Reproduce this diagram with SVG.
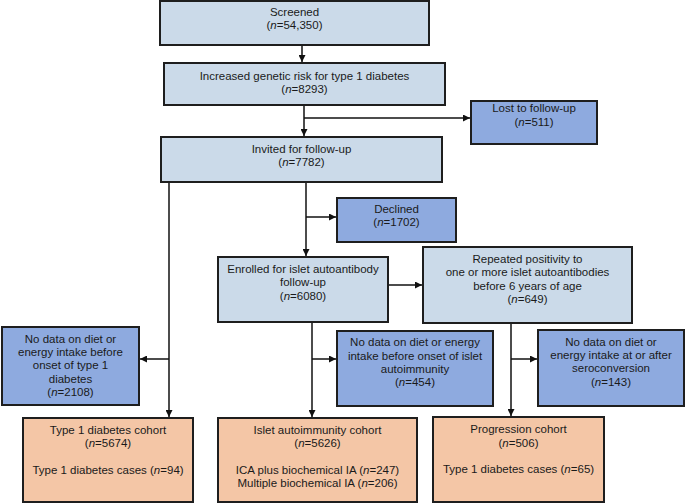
<svg xmlns="http://www.w3.org/2000/svg" width="685" height="504" viewBox="0 0 685 504">
<style>
  .box{stroke:#1e1e1e;stroke-width:2}
  .lb{fill:#cbdae9}
  .mb{fill:#8eaadf}
  .pc{fill:#f4c6a6}
  text{font-family:"Liberation Sans",Arial,sans-serif;font-size:11.5px;fill:#1a1a1a;text-anchor:middle}
  .ln{stroke:#111;stroke-width:1.5;fill:none}
  .arr{marker-end:url(#ah)}
</style>
<defs>
  <marker id="ah" viewBox="0 0 10 10" refX="10" refY="5" markerWidth="7" markerHeight="7" markerUnits="userSpaceOnUse" orient="auto">
    <path d="M0,0 L10,5 L0,10 z" fill="#111"/>
  </marker>
</defs>
<rect width="685" height="504" fill="#fff"/>
<g id="connectors">
  <line class="ln arr" x1="302" y1="45" x2="302" y2="62"/>
  <line class="ln arr" x1="304" y1="105" x2="304" y2="136"/>
  <line class="ln arr" x1="304" y1="118" x2="470" y2="118"/>
  <line class="ln arr" x1="306" y1="182" x2="306" y2="256"/>
  <line class="ln arr" x1="306" y1="217" x2="336" y2="217"/>
  <line class="ln arr" x1="169" y1="182" x2="169" y2="417"/>
  <line class="ln arr" x1="169" y1="359" x2="140" y2="359"/>
  <line class="ln arr" x1="388" y1="285" x2="422" y2="285"/>
  <line class="ln arr" x1="312" y1="322" x2="312" y2="417"/>
  <line class="ln arr" x1="312" y1="359" x2="336" y2="359"/>
  <line class="ln arr" x1="511" y1="323" x2="511" y2="416"/>
  <line class="ln arr" x1="511" y1="359" x2="537" y2="359"/>
</g>
<g id="screened">
  <rect class="box lb" x="160" y="1" width="269" height="44"/>
  <text x="294.5" y="16">Screened</text>
  <text x="294.5" y="29">(<tspan font-style="italic">n</tspan>=54,350)</text>
</g>
<g id="genetic">
  <rect class="box lb" x="164" y="63" width="281" height="42"/>
  <text x="304.5" y="80">Increased genetic risk for type 1 diabetes</text>
  <text x="304.5" y="93">(<tspan font-style="italic">n</tspan>=8293)</text>
</g>
<g id="lost">
  <rect class="box mb" x="471" y="101" width="126" height="43"/>
  <text x="534" y="112">Lost to follow-up</text>
  <text x="534" y="126">(<tspan font-style="italic">n</tspan>=511)</text>
</g>
<g id="invited">
  <rect class="box lb" x="161" y="137" width="281" height="45"/>
  <text x="301.5" y="153">Invited for follow-up</text>
  <text x="301.5" y="166">(<tspan font-style="italic">n</tspan>=7782)</text>
</g>
<g id="declined">
  <rect class="box mb" x="337" y="198" width="119" height="44"/>
  <text x="396.5" y="213">Declined</text>
  <text x="396.5" y="226">(<tspan font-style="italic">n</tspan>=1702)</text>
</g>
<g id="enrolled">
  <rect class="box lb" x="218" y="257" width="170" height="65"/>
  <text x="303" y="272.5">Enrolled for islet autoantibody</text>
  <text x="303" y="286">follow-up</text>
  <text x="303" y="299.5">(<tspan font-style="italic">n</tspan>=6080)</text>
</g>
<g id="repeated">
  <rect class="box lb" x="423" y="247" width="209" height="76"/>
  <text x="527.5" y="263">Repeated positivity to</text>
  <text x="527.5" y="276">one or more islet autoantibodies</text>
  <text x="527.5" y="290">before 6 years of age</text>
  <text x="527.5" y="303">(<tspan font-style="italic">n</tspan>=649)</text>
</g>
<g id="nodata-t1d">
  <rect class="box mb" x="2" y="327" width="137" height="78"/>
  <text x="70.5" y="343">No data on diet or</text>
  <text x="70.5" y="356">energy intake before</text>
  <text x="70.5" y="369">onset of type 1</text>
  <text x="70.5" y="383">diabetes</text>
  <text x="70.5" y="396">(<tspan font-style="italic">n</tspan>=2108)</text>
</g>
<g id="nodata-ia">
  <rect class="box mb" x="337" y="331" width="156" height="75"/>
  <text x="415" y="346">No data on diet or energy</text>
  <text x="415" y="360">intake before onset of islet</text>
  <text x="415" y="373">autoimmunity</text>
  <text x="415" y="386">(<tspan font-style="italic">n</tspan>=454)</text>
</g>
<g id="nodata-sero">
  <rect class="box mb" x="538" y="330" width="146" height="76"/>
  <text x="611" y="346">No data on diet or</text>
  <text x="611" y="359">energy intake at or after</text>
  <text x="611" y="372">seroconversion</text>
  <text x="611" y="386">(<tspan font-style="italic">n</tspan>=143)</text>
</g>
<g id="t1d-cohort">
  <rect class="box pc" x="23" y="418" width="170" height="84"/>
  <text x="108" y="434">Type 1 diabetes cohort</text>
  <text x="108" y="447">(<tspan font-style="italic">n</tspan>=5674)</text>
  <text x="108" y="474">Type 1 diabetes cases (<tspan font-style="italic">n</tspan>=94)</text>
</g>
<g id="ia-cohort">
  <rect class="box pc" x="218" y="418" width="199" height="84"/>
  <text x="317.5" y="434">Islet autoimmunity cohort</text>
  <text x="317.5" y="447">(<tspan font-style="italic">n</tspan>=5626)</text>
  <text x="317.5" y="474">ICA plus biochemical IA (<tspan font-style="italic">n</tspan>=247)</text>
  <text x="317.5" y="487">Multiple biochemical IA (<tspan font-style="italic">n</tspan>=206)</text>
</g>
<g id="progression-cohort">
  <rect class="box pc" x="433" y="417" width="171" height="85"/>
  <text x="518.5" y="433">Progression cohort</text>
  <text x="518.5" y="447">(<tspan font-style="italic">n</tspan>=506)</text>
  <text x="518.5" y="473">Type 1 diabetes cases (<tspan font-style="italic">n</tspan>=65)</text>
</g>
</svg>
